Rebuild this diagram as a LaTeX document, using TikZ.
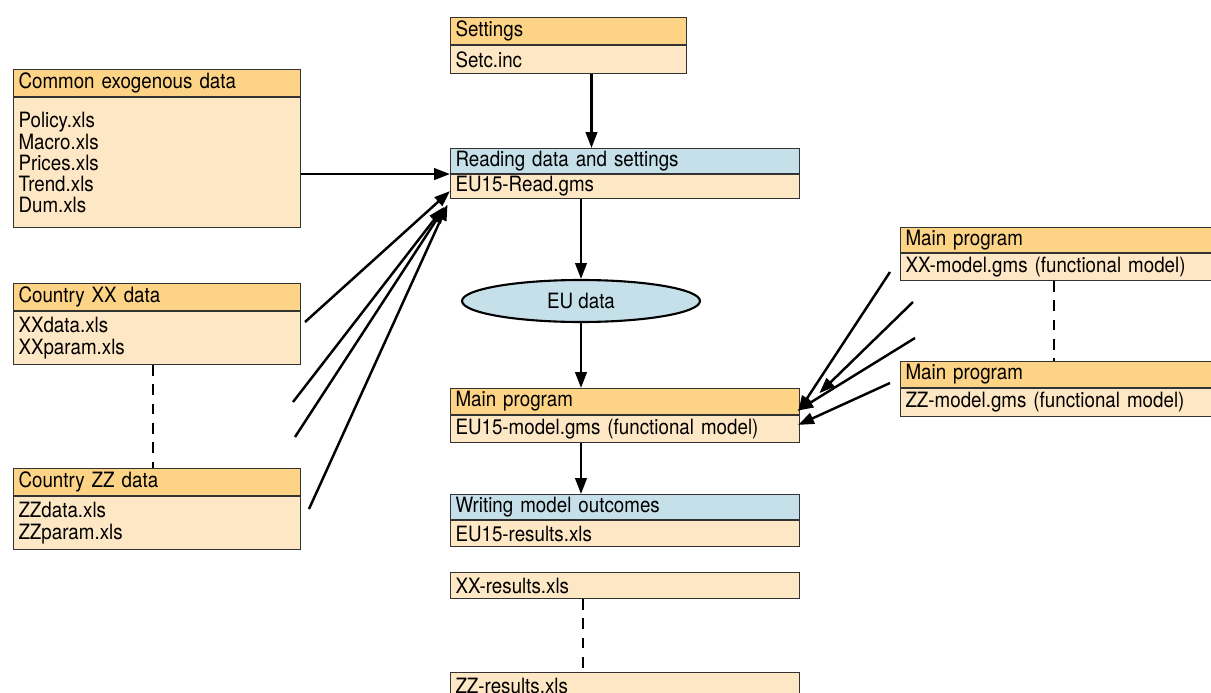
\documentclass[tikz,border=0pt]{standalone}
\usepackage{fontspec}
\setmainfont{TeX Gyre Heros}[FakeStretch=0.89]
\usepackage{xcolor}
\usetikzlibrary{arrows.meta,shapes.geometric}

\definecolor{hdrorange}{RGB}{253,211,134}
\definecolor{bodyorange}{RGB}{254,231,196}
\definecolor{hdrblue}{RGB}{197,224,233}

\tikzset{
	hdr/.style={draw=black!80, line width=0.6pt, fill=hdrorange, anchor=north west,
		inner xsep=0.1cm, inner ysep=0pt, minimum height=0.54cm, align=left,
		font=\fontsize{12}{12}\selectfont},
	hdrb/.style={hdr, fill=hdrblue, minimum height=0.5cm},
	bdy/.style={hdr, fill=bodyorange, minimum height=#1},
	arr/.style={line width=1.4pt, -{Triangle[length=9pt,width=6.5pt]}},
	dsh/.style={line width=1.4pt, dash pattern=on 6pt off 5pt}
}

\begin{document}
\begin{tikzpicture}[x=0.02cm,y=-0.02cm]
	\useasboundingbox (0,0) rectangle (1211,693);
	
	% settings
	\node[hdr, text width=4.52cm] (setH) at (450,17) {Settings};
	\node[bdy=0.56cm, text width=4.52cm] (setB) at (setH.south west) {Setc.inc};
	
	% input data
	\node[hdr, text width=5.54cm] (comH) at (13,69) {Common exogenous data};
	\node[bdy=2.6cm, text width=5.54cm] (comB) at (comH.south west) {Policy.xls\\Macro.xls\\Prices.xls\\Trend.xls\\Dum.xls};
	
	\node[hdr, text width=5.54cm] (cxxH) at (13,283) {Country XX data};
	\node[bdy=1.06cm, text width=5.54cm] (cxxB) at (cxxH.south west) {XXdata.xls\\XXparam.xls};
	
	\node[hdr, text width=5.54cm] (czzH) at (13,468) {Country ZZ data};
	\node[bdy=1.06cm, text width=5.54cm] (czzB) at (czzH.south west) {ZZdata.xls\\ZZparam.xls};
	
	% central column
	\node[hdrb, text width=6.78cm] (readH) at (450,148) {Reading data and settings};
	\node[bdy=0.48cm, text width=6.78cm] (readB) at (readH.south west) {EU15-Read.gms};
	
	\node[ellipse, draw=black, line width=1.2pt, fill=hdrblue, minimum width=4.76cm,
		minimum height=0.84cm, font=\fontsize{12}{12}\selectfont] (eu) at (581,301) {EU data};
	
	\node[hdr, minimum height=0.52cm, text width=6.78cm] (mainH) at (450,388) {Main program};
	\node[bdy=0.54cm, text width=6.78cm] (mainB) at (mainH.south west) {EU15-model.gms (functional model)};
	
	\node[hdrb, text width=6.78cm] (wriH) at (450,494) {Writing model outcomes};
	\node[bdy=0.52cm, text width=6.78cm] (wriB) at (wriH.south west) {EU15-results.xls};
	
	\node[bdy=0.52cm, text width=6.78cm] (xxres) at (450,572) {XX-results.xls};
	\node[bdy=0.52cm, text width=6.78cm] (zzres) at (450,672) {ZZ-results.xls};
	
	% country models
	\node[hdr, minimum height=0.5cm, text width=6.12cm] (mxxH) at (900,227) {Main program};
	\node[bdy=0.54cm, text width=6.12cm] (mxxB) at (mxxH.south west) {XX-model.gms (functional model)};
	
	\node[hdr, minimum height=0.52cm, text width=6.12cm] (mzzH) at (900,361) {Main program};
	\node[bdy=0.56cm, text width=6.12cm] (mzzB) at (mzzH.south west) {ZZ-model.gms (functional model)};
	
	% free ends
	\coordinate (l1) at (305,322);
	\coordinate (l2) at (293,402);
	\coordinate (l3) at (295,437);
	\coordinate (l4) at (309,509);
	\coordinate (r1) at (890,272);
	\coordinate (r2) at (913,302);
	\coordinate (r3) at (915,338);
	\coordinate (r4) at (890,383);
	
	% arrows
	\draw[arr] ([xshift=0.46cm]setB.south) -- ([xshift=0.46cm]setB.south |- readH.north);
	\draw[arr] (comB.east |- readH.south) -- (readH.south west);
	\draw[arr] (l1) -- ([yshift=0.16cm]readB.south west);
	\draw[arr, shorten >=0.2cm] (l2) -- (readB.south west);
	\draw[arr, shorten >=0.2cm] (l3) -- (readB.south west);
	\draw[arr, shorten >=0.12cm] (l4) -- (readB.south west);
	\draw[arr] (eu |- readB.south) -- (eu.north);
	\draw[arr] (eu.south) -- (eu |- mainH.north);
	\draw[arr] (eu |- mainB.south) -- (eu |- wriH.north);
	
	\draw[arr, shorten >=-0.06cm] (r1) -- ([yshift=0.12cm]mainH.south east);
	\draw[arr, shorten >=0.54cm] (r2) -- ([yshift=0.06cm]mainH.south east);
	\draw[arr, shorten >=-0.06cm] (r3) -- ([yshift=0.12cm]mainH.south east);
	\draw[arr, shorten >=-0.04cm] (r4) -- ([yshift=0.1cm]mainB.east);
	
	% dashed links
	\draw[dsh] (cxxB.south -| 153,0) -- (czzH.north -| 153,0);
	\draw[dsh] (mxxB.south -| 1054,0) -- (mzzH.north -| 1054,0);
	\draw[dsh] ([xshift=0.04cm]eu |- xxres.south) -- ([xshift=0.04cm]eu |- zzres.north);
\end{tikzpicture}
\end{document}
